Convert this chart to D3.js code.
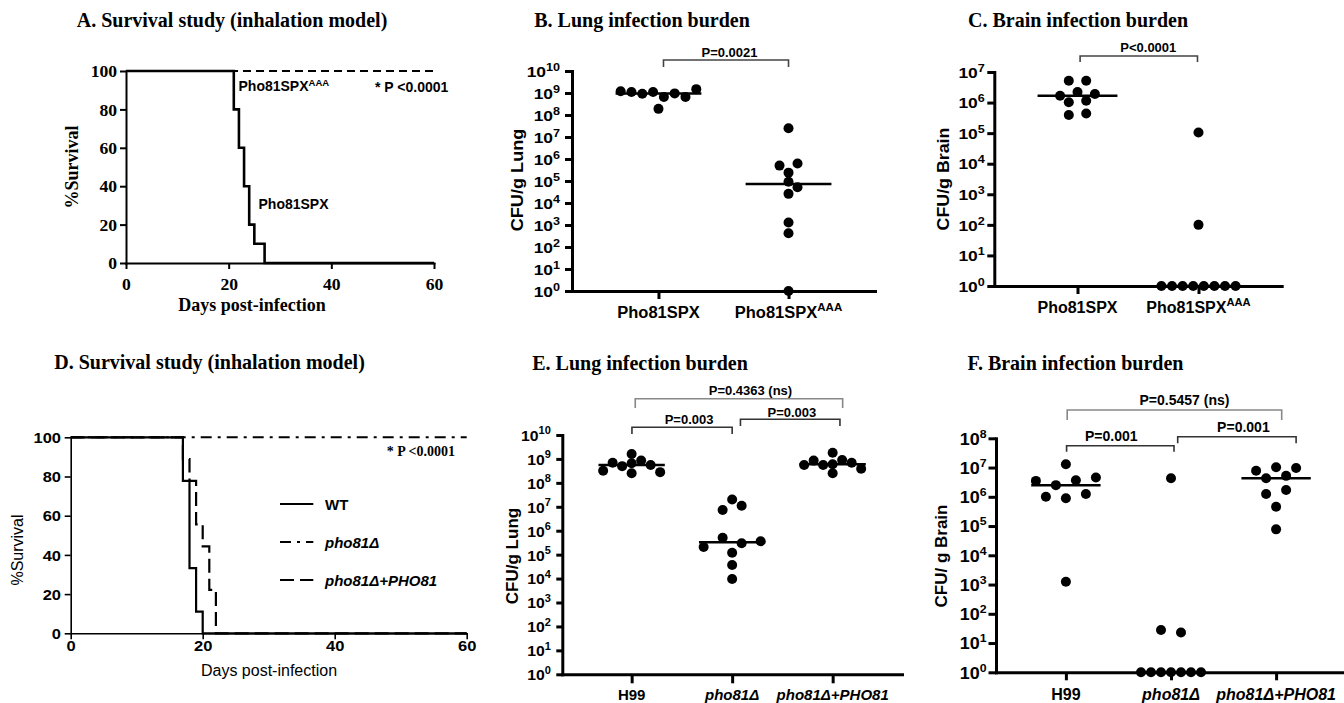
<!DOCTYPE html>
<html>
<head>
<meta charset="utf-8">
<script src="https://d3js.org/d3.v7.min.js"></script>
<style>
html,body{margin:0;padding:0;background:#fff;}
svg{display:block;}
</style>
</head>
<body>
<svg id="chart" width="1344" height="703"></svg>
<script>
// ================= DATA =================
const survTicksX = [0, 20, 40, 60];
const survTicksY = [0, 20, 40, 60, 80, 100];

// A: survival study, Pho81SPX vs Pho81SPX^AAA
const aSpxDays = [0, 21, 22, 23, 24, 25, 27, 60];
const aSpxSurv = [100, 80, 60, 40, 20, 10, 0, 0];
const aAaaDays = [0, 60];
const aAaaSurv = [100, 100];

// D: survival study, WT / pho81Δ / pho81Δ+PHO81
const dSeriesNames = ["WT", "pho81Δ", "pho81Δ+PHO81"];
const dWtDays = [0, 17, 18, 19, 20, 60];
const dWtSurv = [100, 77.8, 33.3, 11.1, 0, 0];
const dDelDays = [0, 60];
const dDelSurv = [100, 100];
const dCompDays = [0, 17, 18, 19, 20, 21, 22, 60];
const dCompSurv = [100, 88.9, 77.8, 55.6, 44.4, 22.2, 0, 0];

// B: lung infection burden (CFU/g lung)
const bCategories = ["Pho81SPX", "Pho81SPX^AAA"];
const bSpx = [1.2e9, 1.1e9, 9.3e8, 1.1e9, 6.6e8, 9.6e8, 6.6e8, 1.5e9, 1.9e8];
const bAaa = [5.0e5, 6.3e5, 2.5e7, 2.4e5, 9.3e4, 5.2e4, 2.6e4, 1.3e3, 4.2e2, 1];
const bExponents = [0, 1, 2, 3, 4, 5, 6, 7, 8, 9, 10];
const bPLabels = ["P=0.0021"];

// C: brain infection burden (CFU/g brain)
const cCategories = ["Pho81SPX", "Pho81SPX^AAA"];
const cSpx = [5.2e6, 5.2e6, 1.68e6, 2.2e6, 1.9e6, 1.02e6, 1.15e6, 3.9e5, 4.4e5];
const cAaa = [1.05e5, 100, 1, 1, 1, 1, 1, 1, 1, 1];
const cExponents = [0, 1, 2, 3, 4, 5, 6, 7];
const cPLabels = ["P<0.0001"];

// E: lung infection burden
const eCategories = ["H99", "pho81Δ", "pho81Δ+PHO81"];
const eH99 = [3.2e8, 6.9e8, 5.0e8, 6.6e8, 8.5e8, 1.6e9, 5.6e8, 2.5e8, 2.8e8];
const eDel = [2.1e5, 2.0e7, 7.4e6, 5.1e5, 1.2e5, 3.7e4, 9.6e3, 1.1e7, 3.0e5, 3.6e5];
const eComp = [5.6e8, 8.5e8, 5.6e8, 6.0e8, 9.0e8, 1.8e9, 6.9e8, 2.5e8, 3.9e8];
const eExponents = [0, 1, 2, 3, 4, 5, 6, 7, 8, 9, 10];
const ePLabels = ["P=0.003", "P=0.003", "P=0.4363 (ns)"];

// F: brain infection burden
const fCategories = ["H99", "pho81Δ", "pho81Δ+PHO81"];
const fH99 = [3.5e6, 2.5e6, 1.0e6, 1.3e7, 1.25e3, 3.7e6, 8.9e5, 4.6e6, 1.25e6];
const fDel = [4.3e6, 28, 23, 1, 1, 1, 1, 1, 1, 1];
const fComp = [7.8e6, 1.02e7, 4.3e6, 1.25e6, 4.6e5, 7.7e4, 5.2e6, 1.7e6, 9.6e6];
const fExponents = [0, 1, 2, 3, 4, 5, 6, 7, 8];
const fPLabels = ["P=0.001", "P=0.001", "P=0.5457 (ns)"];

// ================= RENDER =================
const svg = d3.select("#chart");
const SERIF = "'Liberation Serif','Times New Roman',Times,serif";
const SANS = "'Liberation Sans',Arial,Helvetica,sans-serif";

function addLabel(parent, str, x, y, o) {
  const sx = o.sx || 1;
  let tr = `translate(${x},${y})`;
  if (o.rotate) tr += " rotate(-90)";
  if (sx !== 1) tr += ` scale(${sx},1)`;
  const t = parent.append("text").attr("transform", tr)
    .attr("text-anchor", o.anchor || "start")
    .attr("font-family", o.family || SANS)
    .attr("font-weight", o.weight || "bold")
    .attr("font-style", o.italic ? "italic" : "normal")
    .attr("font-size", o.size).attr("fill", o.fill || "#000");
  const parts = String(str).split("^");
  t.append("tspan").text(parts[0]);
  if (parts[1] !== undefined) {
    t.append("tspan")
      .attr("dy", -(o.supRaise != null ? o.supRaise : Math.round(o.size * 0.4)))
      .attr("font-size", o.supSize || Math.round(o.size * 0.7))
      .text(parts[1]);
  }
  return t;
}

function title(txt, cx, by) {
  addLabel(svg, txt, cx, by, {anchor: "middle", family: SERIF, size: 20});
}

function styleAxis(a, w) {
  a.select(".domain").attr("stroke", "#000").attr("stroke-width", w).attr("stroke-linecap", "square");
  a.selectAll(".tick line").attr("stroke", "#000").attr("stroke-width", w);
}

// ---------- Kaplan–Meier panel ----------
function kmPanel(cfg, series) {
  const g = svg.append("g");
  const x = d3.scaleLinear().domain([0, 60]).range([cfg.x0, cfg.x1]);
  const y = d3.scaleLinear().domain([0, 100]).range([cfg.y0, cfg.y1]);
  const xa = g.append("g").attr("transform", `translate(0,${cfg.y0})`)
    .call(d3.axisBottom(x).tickValues(survTicksX).tickSize(cfg.tick).tickSizeOuter(0).tickFormat(""));
  const ya = g.append("g").attr("transform", `translate(${cfg.x0},0)`)
    .call(d3.axisLeft(y).tickValues(survTicksY).tickSize(cfg.tick).tickSizeOuter(0).tickFormat(""));
  styleAxis(xa, cfg.axisW); styleAxis(ya, cfg.axisW);
  xa.selectAll(".tick").each(function (d) {
    addLabel(d3.select(this), d, 0, cfg.xLabOff, {anchor: "middle", family: cfg.tickFamily, size: cfg.tickFs, sx: cfg.tickSx});
  });
  ya.selectAll(".tick").each(function (d) {
    addLabel(d3.select(this), d, -cfg.yLabOff, cfg.tickFs * 0.35, {anchor: "end", family: cfg.tickFamily, size: cfg.tickFs, sx: cfg.tickSx});
  });
  const line = d3.line().x(d => x(d[0])).y(d => y(d[1])).curve(d3.curveStepAfter);
  series.forEach(s => {
    g.append("path").datum(d3.zip(s.days, s.surv)).attr("d", line)
      .attr("fill", "none").attr("stroke", "#000").attr("stroke-width", s.width)
      .attr("stroke-dasharray", s.dash || null);
  });
  return {g, x, y};
}

// ---------- beeswarm layout (rows centred, collisions avoided) ----------
function swarm(values, y, sWide, sNarrow, minDist) {
  const pts = values.map((v, i) => ({v, i, py: y(v)}));
  const sorted = pts.slice().sort((a, b) => a.py - b.py);
  const rows = [];
  let cur = [sorted[0]];
  for (let k = 1; k < sorted.length; k++) {
    if (sorted[k].py - sorted[k - 1].py <= 4.4) cur.push(sorted[k]);
    else { rows.push(cur); cur = [sorted[k]]; }
  }
  rows.push(cur);
  rows.forEach(r => { r.top = d3.min(r, p => p.py); r.sort((a, b) => a.i - b.i); });
  rows.sort((a, b) => (b.length - a.length) || (a.top - b.top));
  const placed = [];
  const half = sWide / 2;
  rows.forEach(r => {
    const n = r.length;
    const s = n >= 5 ? sNarrow : sWide;
    r.forEach((p, k) => {
      const pref = (k - (n - 1) / 2) * s;
      const cands = [pref];
      for (let m = 1; m <= 8; m++) cands.push(pref + m * half, pref - m * half);
      let chosen = pref;
      for (const c of cands) {
        if (placed.every(q => Math.hypot(q.dx - c, q.py - p.py) >= minDist)) { chosen = c; break; }
      }
      p.dx = chosen;
      placed.push(p);
    });
  });
  return pts;
}

// ---------- scatter (CFU) panel ----------
function scatterPanel(cfg, categories, groups, exps, brackets) {
  const g = svg.append("g");
  const x = d3.scalePoint().domain(categories).range([cfg.x0, cfg.x1]).padding(cfg.pad);
  const y = d3.scaleLog().domain([1, Math.pow(10, d3.max(exps))]).range([cfg.y0, cfg.y1]);
  const ya = g.append("g").attr("transform", `translate(${cfg.x0},0)`)
    .call(d3.axisLeft(y).tickValues(exps.map(e => Math.pow(10, e))).tickSize(cfg.yTick).tickSizeOuter(0).tickFormat(""));
  const xa = g.append("g").attr("transform", `translate(0,${cfg.y0})`)
    .call(d3.axisBottom(x).tickSize(cfg.xTick).tickSizeOuter(0).tickFormat(""));
  styleAxis(ya, cfg.axisW); styleAxis(xa, cfg.axisW);
  ya.selectAll(".tick").each(function (d) {
    const e = Math.round(Math.log10(d));
    addLabel(d3.select(this), "10^" + e, -cfg.labEnd, cfg.tickFs * 0.36,
      {anchor: "end", size: cfg.tickFs, supSize: cfg.supFs, supRaise: cfg.supRaise, sx: cfg.tickSx});
  });
  categories.forEach(c => {
    addLabel(g, c, x(c), cfg.catY, {anchor: "middle", size: cfg.catFs, italic: /pho81/.test(c),
      supSize: cfg.catFs * 0.7, supRaise: cfg.catFs * 0.42, sx: cfg.catSx});
  });
  addLabel(g, cfg.yLabel, cfg.yLabX, cfg.yLabY, {anchor: "middle", rotate: true, size: cfg.yLabFs, sx: cfg.yLabSx});

  const hw = x.step() * 0.33;
  groups.forEach((vals, gi) => {
    const cx = x(categories[gi]);
    const med = d3.median(vals);
    g.append("line").attr("x1", cx - hw).attr("x2", cx + hw)
      .attr("y1", y(med)).attr("y2", y(med)).attr("stroke", "#000").attr("stroke-width", 2.5);
    const pts = swarm(vals, y, cfg.sWide, cfg.sNarrow, 8);
    g.selectAll(null).data(pts).join("circle")
      .attr("cx", d => cx + d.dx).attr("cy", d => d.py).attr("r", cfg.r).attr("fill", "#000");
  });

  brackets.forEach(b => {
    const xA = x(categories[b.from]) + b.offA, xB = x(categories[b.to]) + b.offB;
    g.append("path").attr("d", `M${xA},${b.top + b.leg}V${b.top}H${xB}V${b.top + b.leg}`)
      .attr("fill", "none").attr("stroke", b.color).attr("stroke-width", 1.6);
    addLabel(g, b.label, (xA + xB) / 2 + b.dx, b.top - b.gap, {anchor: "middle", size: cfg.pFs});
  });
  return {g, x, y};
}

// ================= PANEL A =================
title("A. Survival study (inhalation model)", 232, 27);
kmPanel({x0: 126, x1: 434, y0: 263, y1: 71, tick: 6, axisW: 2, tickFamily: SERIF, tickFs: 16, tickSx: 1.1,
  xLabOff: 27, yLabOff: 9},
  [{days: aAaaDays, surv: aAaaSurv, width: 2, dash: "8,5"},
   {days: aSpxDays, surv: aSpxSurv, width: 2.6}]);
addLabel(svg, "%Survival", 78, 167, {anchor: "middle", rotate: true, family: SERIF, size: 18});
addLabel(svg, "Days post-infection", 252, 311, {anchor: "middle", family: SERIF, size: 18});
addLabel(svg, "Pho81SPX^AAA", 238.5, 90.5, {size: 14, supSize: 9.5, supRaise: 5});
addLabel(svg, "* P <0.0001", 375, 91.5, {size: 14});
addLabel(svg, "Pho81SPX", 258.5, 208.5, {size: 14});

// ================= PANEL B =================
title("B. Lung infection burden", 642, 27);
scatterPanel({x0: 572, x1: 875, pad: 0.665, y0: 291, y1: 71, axisW: 3, yTick: 7, xTick: 8,
  labEnd: 12, tickFs: 14.5, supFs: 10.5, supRaise: 6, tickSx: 1.2,
  catY: 318, catFs: 16, catSx: 1.03, yLabel: "CFU/g Lung", yLabX: 523, yLabY: 180, yLabFs: 16.5, yLabSx: 1.1,
  r: 5, sWide: 18, sNarrow: 10.8, pFs: 13},
  bCategories, [bSpx, bAaa], bExponents,
  [{from: 0, to: 1, offA: 5, offB: 0, top: 60, leg: 7, gap: 3, dx: 3.5, color: "#444", label: bPLabels[0]}]);

// ================= PANEL C =================
title("C. Brain infection burden", 1078, 27);
scatterPanel({x0: 994.3, x1: 1281.7, pad: 0.6876, y0: 286, y1: 72, axisW: 3, yTick: 7, xTick: 8,
  labEnd: 9.5, tickFs: 14.5, supFs: 10.5, supRaise: 6, tickSx: 1.2,
  catY: 313, catFs: 16, catSx: 1.0, yLabel: "CFU/g Brain", yLabX: 949, yLabY: 179, yLabFs: 16.5, yLabSx: 1.08,
  r: 5, sWide: 17.4, sNarrow: 10.6, pFs: 13},
  cCategories, [cSpx, cAaa], cExponents,
  [{from: 0, to: 1, offA: 2.6, offB: -1, top: 56, leg: 6, gap: 4, dx: 9.5, color: "#444", label: cPLabels[0]}]);

// ================= PANEL D =================
title("D. Survival study (inhalation model)", 209.5, 369);
kmPanel({x0: 70.7, x1: 466.7, y0: 633.3, y1: 437.3, tick: 6, axisW: 1.6, tickFamily: SANS, tickFs: 15, tickSx: 1.1,
  xLabOff: 17.5, yLabOff: 9.7},
  [{days: dDelDays, surv: dDelSurv, width: 2, dash: "11,6,3,6"},
   {days: dCompDays, surv: dCompSurv, width: 2.2, dash: "14,6"},
   {days: dWtDays, surv: dWtSurv, width: 2.2}]);
addLabel(svg, "%Survival", 23, 550, {anchor: "middle", rotate: true, size: 16, weight: "normal"});
addLabel(svg, "Days post-infection", 269, 676, {anchor: "middle", size: 16, weight: "normal"});
addLabel(svg, "* P <0.0001", 386.7, 456, {family: SERIF, size: 14});
const dLegendDash = [null, "11,6,3,6", "14,6"];
const dLegendY = d3.scalePoint().domain(dSeriesNames).range([504, 580]);
dSeriesNames.forEach((nm, i) => {
  svg.append("line").attr("x1", 280).attr("x2", 313.3).attr("y1", dLegendY(nm)).attr("y2", dLegendY(nm))
    .attr("stroke", "#000").attr("stroke-width", 2.2).attr("stroke-dasharray", dLegendDash[i]);
  addLabel(svg, nm, 325, dLegendY(nm) + 5.5, {size: 15, italic: /pho81/.test(nm)});
});

// ================= PANEL E =================
title("E. Lung infection burden", 640, 370);
scatterPanel({x0: 562.3, x1: 902, pad: 0.69, y0: 674.3, y1: 435, axisW: 3, yTick: 6, xTick: 9,
  labEnd: 11.5, tickFs: 15, supFs: 10.5, supRaise: 6.5, tickSx: 1.05,
  catY: 699.5, catFs: 15, catSx: 1, yLabel: "CFU/g Lung", yLabX: 518, yLabY: 556, yLabFs: 17, yLabSx: 1,
  r: 5, sWide: 19, sNarrow: 9.5, pFs: 13},
  eCategories, [eH99, eDel, eComp], eExponents,
  [{from: 0, to: 1, offA: 0.3, offB: 0, top: 427.3, leg: 6.7, gap: 3.3, dx: 7, color: "#333", label: ePLabels[0]},
   {from: 1, to: 2, offA: 8.3, offB: 7.3, top: 419.3, leg: 6.7, gap: 2.6, dx: 1.7, color: "#333", label: ePLabels[1]},
   {from: 0, to: 2, offA: 3.6, offB: 10, top: 398.7, leg: 9.3, gap: 3.7, dx: 11.5, color: "#888", label: ePLabels[2]}]);

// ================= PANEL F =================
title("F. Brain infection burden", 1075.5, 370);
scatterPanel({x0: 996, x1: 1346, pad: 0.665, y0: 672.3, y1: 438.3, axisW: 3, yTick: 7.5, xTick: 8,
  labEnd: 9.5, tickFs: 16, supFs: 11, supRaise: 7, tickSx: 1.12,
  catY: 699.5, catFs: 16, catSx: 1, yLabel: "CFU/ g Brain", yLabX: 947, yLabY: 556, yLabFs: 17, yLabSx: 1,
  r: 5, sWide: 20, sNarrow: 10, pFs: 14},
  fCategories, [fH99, fDel, fComp], fExponents,
  [{from: 0, to: 1, offA: 0.7, offB: 3, top: 445.7, leg: 6, gap: 5, dx: -9, color: "#333", label: fPLabels[0]},
   {from: 1, to: 2, offA: 6.7, offB: 20, top: 436.7, leg: 6.6, gap: 4.4, dx: 6.5, color: "#333", label: fPLabels[1]},
   {from: 0, to: 2, offA: 1.3, offB: 5.6, top: 410, leg: 10, gap: 5, dx: 10, color: "#888", label: fPLabels[2]}]);
</script>
</body>
</html>
